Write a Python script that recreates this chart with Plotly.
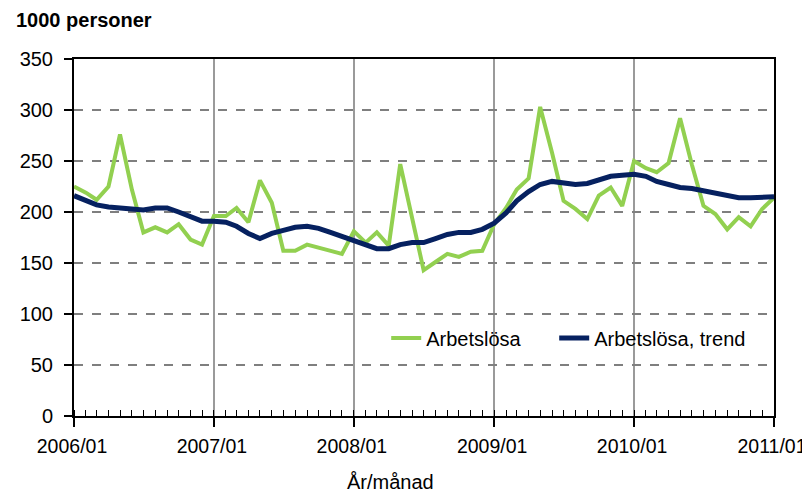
import pandas as pd
import plotly.graph_objects as go

months = pd.date_range("2006-01-01", periods=61, freq="MS")

arbetslosa = [
    225, 219, 212, 225, 276, 222, 180, 185, 180, 188, 173, 168,
    196, 196, 204, 190, 231, 209, 162, 162, 168, 165, 161, 159,
    181, 170, 180, 167, 247, 195, 143, 151, 159, 156, 161, 162,
    188, 204, 222, 233, 303, 258, 211, 203, 193, 216, 224, 206,
    250, 243, 239, 248, 292, 246, 206, 198, 183, 195, 186, 203,
    214,
]

trend = [
    216, 211, 207, 205, 204, 204, 202, 204, 204, 200, 195, 191,
    191, 190, 186, 179, 174, 179, 182, 185, 186, 184, 180, 176,
    171, 167, 164, 164, 168, 170, 170, 174, 178, 180, 180, 183,
    189, 199, 211, 220, 227, 230, 229, 227, 228, 232, 235, 236,
    237, 235, 230, 227, 224, 223, 221, 219, 216, 214, 214, 215,
    215,
]

series_names = ["Arbetslösa", "Arbetslösa, trend"]
y_title = "1000 personer"
x_title = "År/månad"

FONT = "Liberation Sans, Arial, sans-serif"

fig = go.Figure()
fig.add_trace(go.Scatter(x=months, y=arbetslosa, mode="lines", name=series_names[0],
                         line=dict(color="#92D050", width=4), legend="legend"))
fig.add_trace(go.Scatter(x=months, y=trend, mode="lines", name=series_names[1],
                         line=dict(color="#062160", width=5), legend="legend2"))

legend_common = dict(orientation="h", yanchor="middle", y=0.2185, xanchor="left",
                     bgcolor="rgba(0,0,0,0)", font=dict(size=20, family=FONT))

fig.update_layout(
    width=802, height=485,
    margin=dict(l=66, r=36, t=51, b=77, autoexpand=False),
    paper_bgcolor="white", plot_bgcolor="white",
    font=dict(family=FONT, size=20, color="black"),
    showlegend=True,
    legend=dict(x=0.446, **legend_common),
    legend2=dict(x=0.686, **legend_common),
    annotations=[
        dict(text="<b>" + y_title + "</b>", xref="paper", yref="paper",
             x=-0.086, y=1.11, xanchor="left", yanchor="middle",
             showarrow=False, font=dict(size=20, family=FONT)),
        dict(text=x_title, xref="paper", yref="paper",
             x=0.452, y=-0.185, xanchor="center", yanchor="middle",
             showarrow=False, font=dict(size=20, family=FONT)),
    ],
)

fig.update_xaxes(
    range=[months[0], months[-1]], automargin=False,
    dtick="M12", tick0="2006-01-01", tickformat="%Y/%m",
    tickfont=dict(size=19.5), ticklabelshift=-2,
    ticks="outside", ticklen=9, tickwidth=1.5, tickcolor="black",
    showline=True, linecolor="black", linewidth=2, mirror=True,
    showgrid=True, gridcolor="#9a9a9a", gridwidth=1.5,
    minor=dict(dtick="M1", ticks="inside", ticklen=6, tickcolor="black", tickwidth=1, showgrid=False),
    zeroline=False, ticklabelstandoff=3,
)

fig.update_yaxes(
    range=[0, 350], dtick=50, automargin=False,
    ticks="outside", ticklen=8, tickwidth=1.5, tickcolor="black",
    showline=True, linecolor="black", linewidth=2, mirror=True,
    showgrid=True, gridcolor="#7f7f7f", gridwidth=1.5, griddash="dash",
    zeroline=False, ticklabelstandoff=7,
)

fig.write_html("out.html")
